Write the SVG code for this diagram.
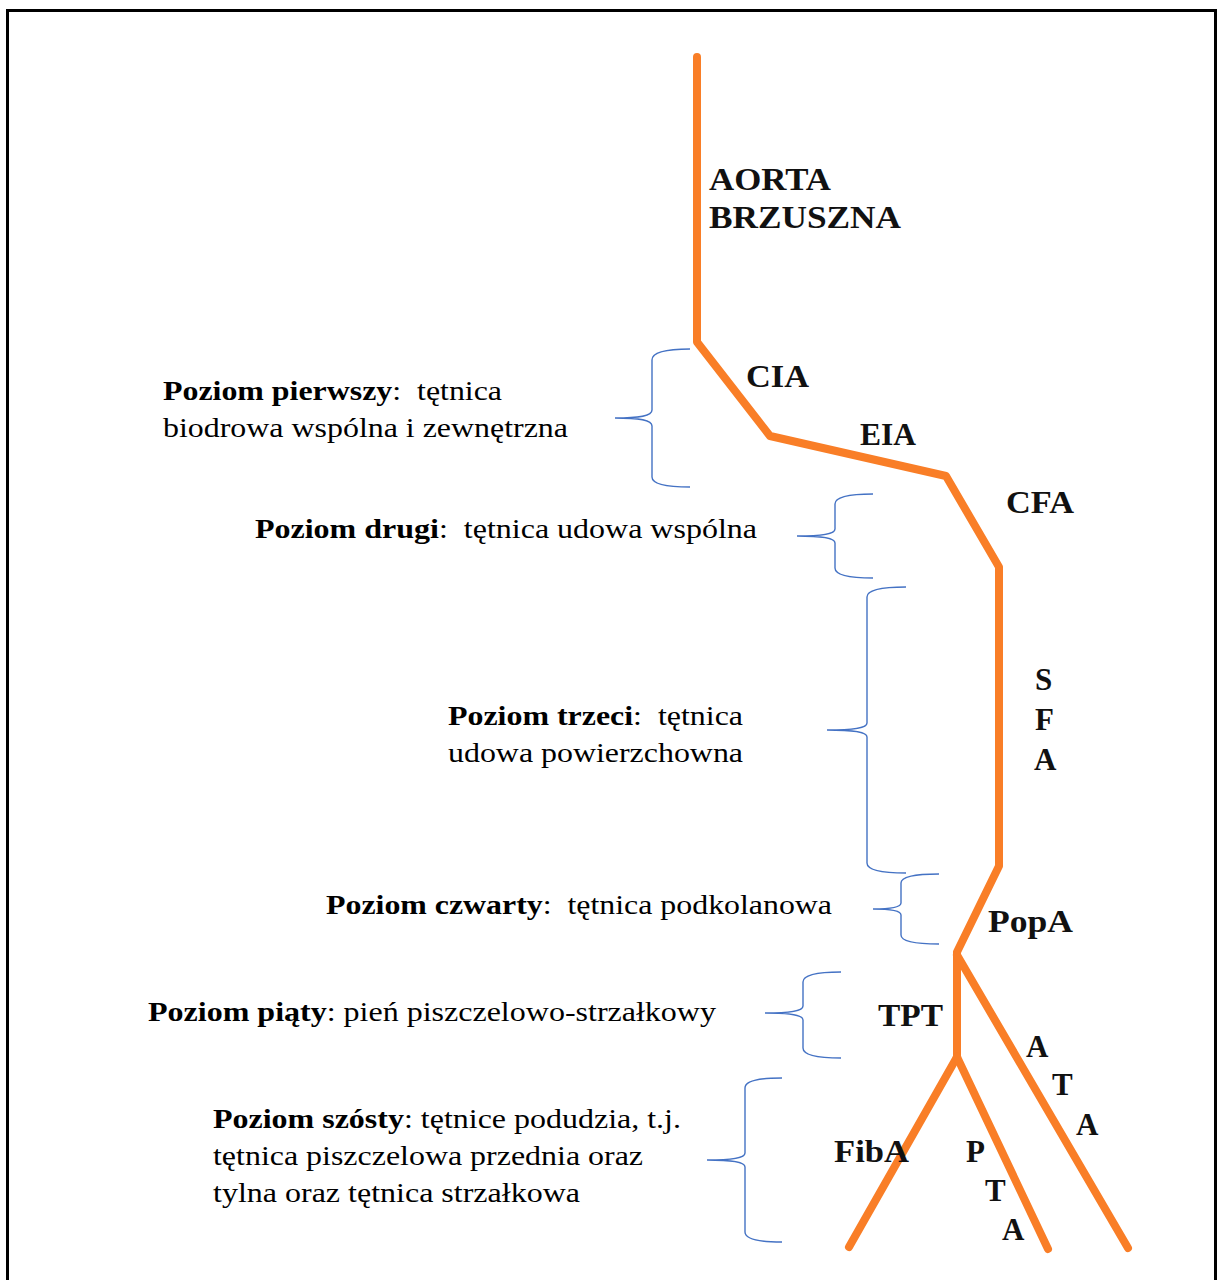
<svg xmlns="http://www.w3.org/2000/svg" width="1218" height="1280" viewBox="0 0 1218 1280">
<style>
.frame{fill:none;stroke:#000;stroke-width:3}
.artery{fill:none;stroke:#F97E27;stroke-width:8;stroke-linecap:round;stroke-linejoin:round}
.brace{fill:none;stroke:#4472C4;stroke-width:1.4}
.body{font-family:"Liberation Serif","Times New Roman",serif;font-size:28px;fill:#000;white-space:pre}
.b{font-weight:bold}
.lbl{font-family:"Liberation Serif","Times New Roman",serif;font-size:31px;font-weight:bold;fill:#111}
</style>
<rect width="1218" height="1280" fill="#fff"/>
<rect class="frame" x="7.5" y="10.5" width="1208" height="1290"/>

<g id="connectors">
<path class="artery" d="M697,57 L697,342 L770,436 L946,476 L999,567 L999,866 L957,952 L957,1057"/>
<path class="artery" d="M957,955 L1128,1248"/>
<path class="artery" d="M957,1057 L849,1247"/>
<path class="artery" d="M957,1057 L1048,1249"/>
</g>

<g id="braces">
<path id="brace1" class="brace" d="M690,349 C670,349 652,351 652,360 L652,410 C652,416 640,418 615,418 C640,418 652,420 652,426 L652,477 C652,485 670,487 690,487"/>
<path id="brace2" class="brace" d="M873,494 C853,494 835,496 835,504 L835,529 C835,534 823,536 797,536 C823,536 835,538 835,543 L835,568 C835,576 853,578 873,578"/>
<path id="brace3" class="brace" d="M906,587 C886,587 867,589 867,597 L867,723 C867,728 855,730 827,730 C855,730 867,732 867,737 L867,863 C867,871 886,873 906,873"/>
<path id="brace4" class="brace" d="M939,874 C919,874 901,876 901,883 L901,903 C901,907 891,909 873,909 C891,909 901,911 901,915 L901,935 C901,942 919,944 939,944"/>
<path id="brace5" class="brace" d="M841,972 C821,972 803,974 803,982 L803,1006 C803,1011 791,1013 765,1013 C791,1013 803,1015 803,1020 L803,1048 C803,1056 821,1058 841,1058"/>
<path id="brace6" class="brace" d="M782,1078 C762,1078 745,1080 745,1088 L745,1153 C745,1158 733,1160 707,1160 C733,1160 745,1162 745,1167 L745,1232 C745,1240 762,1242 782,1242"/>
</g>

<g id="level1">
<text class="body" xml:space="preserve" x="163" y="400" textLength="339" lengthAdjust="spacingAndGlyphs"><tspan class="b">Poziom pierwszy</tspan>:  tętnica</text>
<text class="body" x="163" y="437" textLength="405" lengthAdjust="spacingAndGlyphs">biodrowa wspólna i zewnętrzna</text>
</g>
<g id="level2">
<text class="body" xml:space="preserve" x="255" y="538" textLength="502" lengthAdjust="spacingAndGlyphs"><tspan class="b">Poziom drugi</tspan>:  tętnica udowa wspólna</text>
</g>
<g id="level3">
<text class="body" xml:space="preserve" x="448" y="725" textLength="295" lengthAdjust="spacingAndGlyphs"><tspan class="b">Poziom trzeci</tspan>:  tętnica</text>
<text class="body" x="448" y="762" textLength="295" lengthAdjust="spacingAndGlyphs">udowa powierzchowna</text>
</g>
<g id="level4">
<text class="body" xml:space="preserve" x="326" y="914" textLength="506" lengthAdjust="spacingAndGlyphs"><tspan class="b">Poziom czwarty</tspan>:  tętnica podkolanowa</text>
</g>
<g id="level5">
<text class="body" x="148" y="1021" textLength="568" lengthAdjust="spacingAndGlyphs"><tspan class="b">Poziom piąty</tspan>: pień piszczelowo-strzałkowy</text>
</g>
<g id="level6">
<text class="body" x="213" y="1128" textLength="468" lengthAdjust="spacingAndGlyphs"><tspan class="b">Poziom szósty</tspan>: tętnice podudzia, t.j.</text>
<text class="body" x="213" y="1165" textLength="430" lengthAdjust="spacingAndGlyphs">tętnica piszczelowa przednia oraz</text>
<text class="body" x="213" y="1202" textLength="367" lengthAdjust="spacingAndGlyphs">tylna oraz tętnica strzałkowa</text>
</g>

<g id="labels">
<text class="lbl" x="709" y="190" textLength="122" lengthAdjust="spacingAndGlyphs">AORTA</text>
<text class="lbl" x="709" y="228" textLength="192" lengthAdjust="spacingAndGlyphs">BRZUSZNA</text>
<text class="lbl" x="746" y="387" textLength="63" lengthAdjust="spacingAndGlyphs">CIA</text>
<text class="lbl" x="860" y="445" textLength="56" lengthAdjust="spacingAndGlyphs">EIA</text>
<text class="lbl" x="1006" y="513" textLength="68" lengthAdjust="spacingAndGlyphs">CFA</text>
<text class="lbl" x="1035" y="690">S</text>
<text class="lbl" x="1035" y="730">F</text>
<text class="lbl" x="1034" y="770">A</text>
<text class="lbl" x="988" y="932" textLength="85" lengthAdjust="spacingAndGlyphs">PopA</text>
<text class="lbl" x="878" y="1026" textLength="65" lengthAdjust="spacingAndGlyphs">TPT</text>
<text class="lbl" x="1026" y="1057">A</text>
<text class="lbl" x="1052" y="1095">T</text>
<text class="lbl" x="1076" y="1135">A</text>
<text class="lbl" x="834" y="1162" textLength="75" lengthAdjust="spacingAndGlyphs">FibA</text>
<text class="lbl" x="966" y="1162">P</text>
<text class="lbl" x="985" y="1201">T</text>
<text class="lbl" x="1002" y="1240">A</text>
</g>
</svg>
